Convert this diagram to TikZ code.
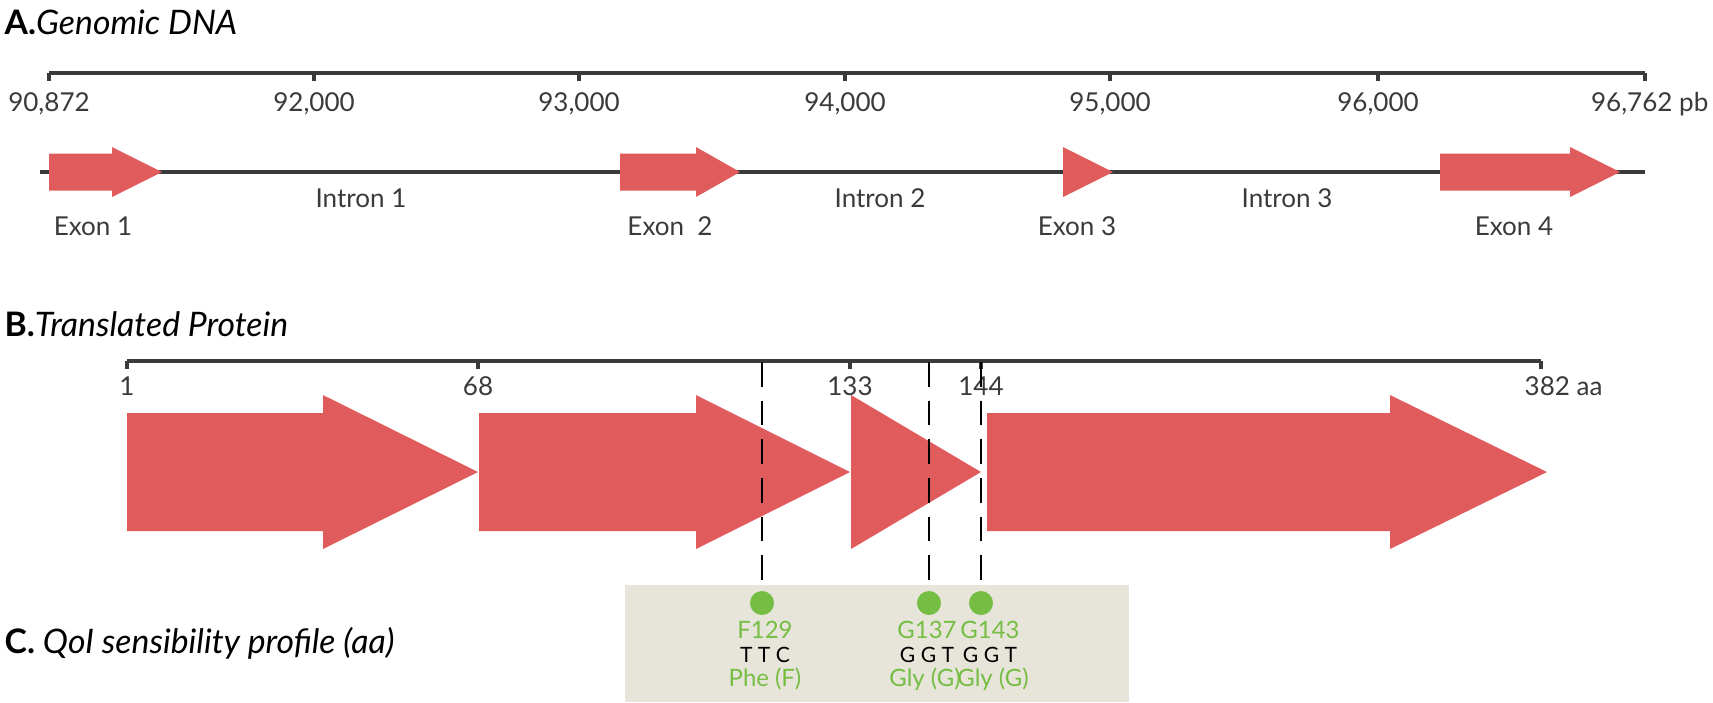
\documentclass[tikz,border=0pt]{standalone}
\usepackage{fontspec}
\setmainfont{Lato}
\usetikzlibrary{positioning}
\definecolor{exonred}{HTML}{E05C5C}
\definecolor{snpgreen}{HTML}{76BE43}
\definecolor{boxgray}{HTML}{E7E5DA}
\definecolor{txtgray}{HTML}{3A3A3A}
\tikzset{
  lbl/.style={text=txtgray,font=\fontsize{7.4}{8}\selectfont,inner sep=0pt},
  title/.style={anchor=west,font=\fontsize{9.6}{11}\selectfont,inner sep=0pt},
  axis/.style={line width=1.1pt,draw=txtgray},
  exon/.style={fill=exonred,draw=none},
  snp/.style={circle,fill=snpgreen,minimum size=0.24cm,inner sep=0pt},
  snplbl/.style={text=snpgreen,font=\fontsize{6.8}{8}\selectfont,inner sep=0pt},
  codon/.style={font=\fontsize{6}{7}\selectfont,inner sep=0pt}
}
% arrow: x0, head start, tip, centre y, half body, half head
\newcommand{\genearrow}[6]{\fill[exon] (#1,#4-#5) -- (#2,#4-#5) -- (#2,#4-#6) -- (#3,#4) -- (#2,#4+#6) -- (#2,#4+#5) -- (#1,#4+#5) -- cycle;}
\begin{document}
\begin{tikzpicture}[x=0.01cm,y=-0.01cm]
\useasboundingbox (0,0) rectangle (1713,702);
% A. genomic DNA
\node[title] (tA) at (4,22) {\textbf{A.}\textit{Genomic DNA}};
\draw[axis] (49,73) -- (1645,73);
\foreach \x/\t in {49/{90,872},314/{92,000},579/{93,000},845/{94,000},1110/{95,000},1378/{96,000}}{
  \draw[axis] (\x,73) -- (\x,81);
  \node[lbl] at (\x,104) {\t};
}
\draw[axis] (1645,73) -- (1645,81);
\node[lbl,anchor=east] (endA) at (1709,104) {96,762 pb};
\draw[axis] (40,172) -- (1645,172);
\genearrow{49}{112}{162}{172}{18.5}{25}
\genearrow{620}{696}{740}{172}{18.5}{25}
\genearrow{1063}{1063}{1113}{172}{18.5}{25}
\genearrow{1440}{1570}{1620}{172}{18.5}{25}
\foreach \x/\t in {93/Exon 1,670/Exon\ \ 2,1077/Exon 3,1514/Exon 4}
  \node[lbl] at (\x,226) {\t};
\foreach \x/\t in {361/Intron 1,880/Intron 2,1287/Intron 3}
  \node[lbl] at (\x,198) {\t};
% B. translated protein
\node[title] (tB) at (4,324) {\textbf{B.}\textit{Translated Protein}};
\draw[axis] (127,361) -- (1541,361);
\foreach \x/\t in {127/1,478/68,850/133,981/144}{
  \draw[axis] (\x,361) -- (\x,369);
  \node[lbl] at (\x,386) {\t};
}
\draw[axis] (1541,361) -- (1541,369);
\node[lbl,anchor=west] (endB) at (1524,386) {382 aa};
\genearrow{127}{323}{478}{472}{59}{77}
\genearrow{479}{696}{850}{472}{59}{77}
\genearrow{851}{851}{981}{472}{77}{77}
\genearrow{987}{1390}{1547}{472}{59}{77}
% C. QoI profile
\node[title,font=\fontsize{9.6}{11}\selectfont\itshape] (tC) at (4,643) {\textbf{\upshape C.} QoI sensibility profile (aa)};
\fill[boxgray] (625,585) rectangle (1129,702);
\node[snp] (s1) at (762,603) {};
\node[snp] (s2) at (929,603) {};
\node[snp] (s3) at (981,603) {};
\coordinate (c1) at (762,362);
\coordinate (c2) at (929,362);
\coordinate (c3) at (981,362);
\foreach \i in {1,2,3}
  \draw[line width=0.7pt,dash pattern=on 7pt off 4pt] (c\i) -- (s\i.north);
\node[snplbl] (n1) at (765,630) {F129};
\node[snplbl] (n2) at (927,630) {G137};
\node[snplbl] (n3) at (990,630) {G143};
\node[codon] (d1) at (765,655) {T T C};
\node[codon] (d2) at (927,655) {G G T};
\node[codon] (d3) at (990,655) {G G T};
\node[snplbl] (p1) at (765,679) {Phe (F)};
\node[snplbl] (p2) at (925,679) {Gly (G)};
\node[snplbl] (p3) at (993,679) {Gly (G)};
\end{tikzpicture}
\end{document}
